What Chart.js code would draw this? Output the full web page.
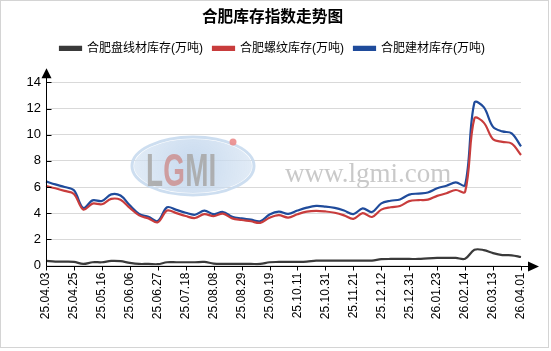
<!DOCTYPE html>
<html><head><meta charset="utf-8">
<script src="https://cdn.jsdelivr.net/npm/chart.js@4.4.1/dist/chart.umd.min.js"></script>
<style>html,body{margin:0;padding:0;background:#fff;overflow:hidden}canvas{display:block}</style>
</head><body><canvas id="c" width="551" height="351"></canvas>
<script>
const titleText = '合肥库存指数走势图';
const seriesNames = ['合肥盘线材库存(万吨)', '合肥螺纹库存(万吨)', '合肥建材库存(万吨)'];
const categories = [
  '25.04.03','25.04.11','25.04.18','25.04.25','25.04.30','25.05.09','25.05.16','25.05.23','25.05.30',
  '25.06.06','25.06.13','25.06.20','25.06.27','25.07.04','25.07.11','25.07.18','25.07.25','25.08.01',
  '25.08.08','25.08.15','25.08.22','25.08.29','25.09.05','25.09.12','25.09.19','25.09.26','25.10.09',
  '25.10.11','25.10.17','25.10.24','25.10.31','25.11.07','25.11.14','25.11.21','25.11.28','25.12.05',
  '25.12.12','25.12.19','25.12.26','25.12.31','26.01.09','26.01.16','26.01.23','26.01.30','26.02.06',
  '26.02.14','26.02.27','26.03.06','26.03.13','26.03.20','26.03.27','26.04.01'
];
const wireRod = [
  0.35,0.30,0.30,0.28,0.12,0.25,0.25,0.35,0.33,0.20,0.12,0.12,0.10,0.25,0.25,0.25,0.25,0.27,
  0.15,0.12,0.12,0.12,0.12,0.12,0.25,0.27,0.28,0.28,0.30,0.37,0.37,0.37,0.37,0.37,0.37,0.38,
  0.48,0.50,0.50,0.50,0.50,0.55,0.58,0.58,0.58,0.52,1.20,1.18,0.95,0.80,0.78,0.65
];
const rebar = [
  6.08,5.90,5.70,5.47,4.28,4.73,4.68,5.09,5.02,4.40,3.83,3.60,3.30,4.20,4.00,3.78,3.63,3.93,
  3.77,3.97,3.60,3.48,3.38,3.26,3.65,3.85,3.66,3.92,4.12,4.18,4.13,4.03,3.83,3.56,4.00,3.71,
  4.27,4.45,4.55,4.92,5.00,5.03,5.32,5.52,5.77,5.63,11.25,10.92,9.65,9.45,9.32,8.45
];
const building = [
  6.43,6.20,6.00,5.75,4.40,4.98,4.93,5.44,5.35,4.60,3.95,3.72,3.40,4.45,4.25,4.03,3.88,4.20,
  3.92,4.09,3.72,3.60,3.50,3.38,3.90,4.12,3.94,4.20,4.42,4.55,4.50,4.40,4.20,3.93,4.37,4.09,
  4.75,4.95,5.05,5.42,5.50,5.58,5.90,6.10,6.35,6.15,12.45,12.10,10.60,10.25,10.10,9.10
];
const yTicks = [0, 2, 4, 6, 8, 10, 12, 14];
const labelEvery = 3;

const FONT = '"Liberation Sans", Arial, "Noto Sans CJK SC", sans-serif';

const legendSpace = {
  id: 'legendSpace',
  beforeInit(chart) {
    const lg = chart.legend;
    const fit = lg.fit;
    lg.fit = function () { fit.call(this); this.height += 18; };
  }
};

const decor = {
  id: 'decor',
  beforeDatasetsDraw(chart) {
    const ctx = chart.ctx;
    ctx.save();
    const cx = 193, cy = 166;
    const g = ctx.createRadialGradient(cx, cy, 5, cx, cy, 62);
    g.addColorStop(0, 'rgba(188,210,235,0.8)');
    g.addColorStop(1, 'rgba(214,228,243,0.7)');
    ctx.fillStyle = g;
    ctx.beginPath(); ctx.ellipse(cx, cy, 59, 27, 0, 0, Math.PI * 2); ctx.fill();
    ctx.strokeStyle = 'rgba(200,218,238,0.9)'; ctx.lineWidth = 3;
    ctx.beginPath(); ctx.ellipse(cx, cy, 61, 29, 0, 0, Math.PI * 2); ctx.stroke();
    ctx.save();
    ctx.translate(146, 186);
    ctx.scale(0.82, 1.35);
    ctx.font = 'bold 34px "Liberation Sans", Arial, sans-serif';
    ctx.textBaseline = 'alphabetic'; ctx.textAlign = 'left';
    ctx.fillStyle = 'rgba(170,170,170,0.9)'; ctx.fillText('L', 0, 0);
    ctx.fillStyle = 'rgba(205,145,145,0.85)'; ctx.fillText('G', 21, 0);
    ctx.fillStyle = 'rgba(170,170,170,0.9)'; ctx.fillText('MI', 48, 0);
    ctx.restore();
    ctx.fillStyle = 'rgba(235,140,140,0.9)';
    ctx.beginPath(); ctx.arc(233, 142, 3.5, 0, Math.PI * 2); ctx.fill();
    ctx.font = '27px "Liberation Serif", "Times New Roman", serif';
    ctx.fillStyle = 'rgba(195,195,195,0.9)';
    ctx.fillText('www.lgmi.com', 285, 175);
    ctx.restore();
  },
  afterDraw(chart) {
    const ctx = chart.ctx, a = chart.chartArea;
    const ys = chart.scales.y, xs = chart.scales.x;
    ctx.save();
    ctx.strokeStyle = '#d4d4d4'; ctx.lineWidth = 1;
    ctx.strokeRect(0.5, 0.5, 548, 347);
    ctx.strokeStyle = '#000'; ctx.fillStyle = '#000'; ctx.lineWidth = 1;
    const x0 = Math.round(a.left) + 0.5, y0 = Math.round(ys.getPixelForValue(0)) + 0.5;
    const yTop = ys.getPixelForValue(14);
    ctx.beginPath(); ctx.moveTo(x0, y0); ctx.lineTo(x0, yTop - 9); ctx.stroke();
    ctx.beginPath(); ctx.moveTo(x0, yTop - 14); ctx.lineTo(x0 - 5, yTop - 4); ctx.lineTo(x0 + 5, yTop - 4); ctx.closePath(); ctx.fill();
    ctx.beginPath(); ctx.moveTo(x0, y0); ctx.lineTo(533, y0); ctx.stroke();
    ctx.beginPath(); ctx.moveTo(539, y0); ctx.lineTo(528, y0 - 5); ctx.lineTo(528, y0 + 5); ctx.closePath(); ctx.fill();
    yTicks.forEach(v => {
      const y = Math.round(ys.getPixelForValue(v)) + 0.5;
      ctx.beginPath(); ctx.moveTo(x0, y); ctx.lineTo(x0 + 5, y); ctx.stroke();
    });
    categories.forEach((c, i) => {
      if (i % labelEvery) return;
      const x = Math.round(xs.getPixelForValue(i)) + 0.5;
      ctx.beginPath(); ctx.moveTo(x, y0); ctx.lineTo(x, y0 + 4); ctx.stroke();
    });
    ctx.restore();
  }
};

new Chart(document.getElementById('c'), {
  type: 'line',
  data: {
    labels: categories,
    datasets: [
      { label: seriesNames[0], data: wireRod, borderColor: '#3a3a3a', backgroundColor: '#3a3a3a' },
      { label: seriesNames[1], data: rebar, borderColor: '#c83c3c', backgroundColor: '#c83c3c' },
      { label: seriesNames[2], data: building, borderColor: '#1f4b9b', backgroundColor: '#1f4b9b' }
    ]
  },
  options: {
    responsive: false,
    animation: false,
    devicePixelRatio: 1,
    layout: { padding: { left: 24, right: 30, top: 0, bottom: 0 } },
    elements: {
      line: { borderWidth: 2.2, tension: 0.35, fill: false },
      point: { radius: 0, hoverRadius: 0 }
    },
    plugins: {
      title: {
        display: true, text: titleText, color: '#000',
        font: { family: FONT, size: 15.7, weight: 'bold' },
        padding: { top: 8.5, bottom: 5 }
      },
      legend: {
        display: true,
        labels: {
          color: '#000', boxWidth: 21, boxHeight: 3, padding: 10,
          font: { family: FONT, size: 12 }
        }
      },
      tooltip: { enabled: false }
    },
    scales: {
      x: {
        type: 'category',
        offset: false,
        border: { display: false },
        grid: { display: false, drawTicks: false },
        ticks: {
          autoSkip: false, maxRotation: 90, minRotation: 90, padding: 7,
          color: '#000', font: { family: FONT, size: 12 },
          callback: function (v, i) { return i % labelEvery === 0 ? categories[i] : ''; }
        },
        afterFit(scale) { scale.height = 351 - 265.5; }
      },
      y: {
        min: 0, max: 14,
        border: { display: false },
        grid: { color: '#d9d9d9', drawTicks: false, lineWidth: 1 },
        ticks: {
          stepSize: 2, padding: 5, color: '#000',
          font: { family: FONT, size: 13 }
        },
        afterFit(scale) { scale.width = 22; }
      }
    }
  },
  plugins: [legendSpace, decor]
});
</script>
</body></html>
